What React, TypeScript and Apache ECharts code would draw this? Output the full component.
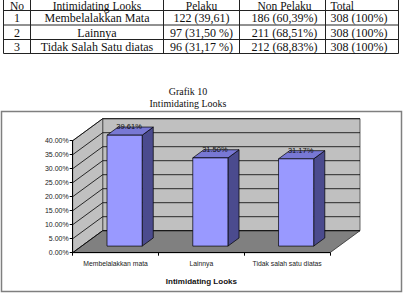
import React, { useEffect, useRef } from "react";
import * as echarts from "echarts";

// ---- data ----
const categories = ["Membelalakkan mata", "Lainnya", "Tidak salah satu diatas"];
const pelakuPct = [39.61, 31.5, 31.17];
const axisTitle = "Intimidating Looks";
const chartTitle = ["Grafik 10", "Intimidating Looks"];
const yMin = 0;
const yMax = 40;
const yStep = 5;

const tableHeader = ["No", "Intimidating Looks", "Pelaku", "Non Pelaku", "Total"];
const tableRows = [
  ["1", "Membelalakkan Mata", "122 (39,61)", "186 (60,39%)", "308 (100%)"],
  ["2", "Lainnya", "97 (31,50 %)", "211 (68,51%)", "308 (100%)"],
  ["3", "Tidak Salah Satu diatas", "96 (31,17 %)", "212 (68,83%)", "308 (100%)"],
];

// ---- layout / style ----
const DX = 30;
const DY = -22;
const colX = [3.5, 30.5, 163.5, 239.5, 325.5, 398.5];
const rowY = [-4, 10.5, 25, 39.5, 53.5];
const serif = "Liberation Serif";
const sans = "Liberation Sans";

function buildTable(): any[] {
  const els: any[] = [];
  const stroke = { stroke: "#222", lineWidth: 1 };
  rowY.forEach((y) => {
    els.push({ type: "line", shape: { x1: colX[0], y1: y, x2: colX[colX.length - 1], y2: y }, style: stroke });
  });
  colX.forEach((x) => {
    els.push({ type: "line", shape: { x1: x, y1: rowY[0], x2: x, y2: rowY[rowY.length - 1] }, style: stroke });
  });
  const allRows = [tableHeader, ...tableRows];
  allRows.forEach((row, r) => {
    const cy = r === 0 ? 5.5 : (rowY[r] + rowY[r + 1]) / 2 + 0.3;
    row.forEach((cell, c) => {
      const left = c === 4;
      const cx = left ? colX[4] + 5 : c === 3 ? (colX[3] + colX[4]) / 2 + 2 : (colX[c] + colX[c + 1]) / 2;
      els.push({
        type: "text",
        x: cx,
        y: cy,
        style: {
          text: cell,
          fontFamily: serif,
          fontSize: r === 0 ? 11.5 : 12,
          lineHeight: r === 0 ? 11 : 12,
          fill: "#111",
          align: left ? "left" : "center",
          verticalAlign: "middle",
        },
      });
    });
  });
  return els;
}

export default function App() {
  const ref = useRef<HTMLDivElement>(null);
  useEffect(() => {
    if (!ref.current) return;
    const chart = echarts.init(ref.current, undefined, { renderer: "svg" });

    const renderWalls = (params: any, api: any) => {
      const cs = params.coordSys;
      const x0 = cs.x, y0 = cs.y, w = cs.width, h = cs.height;
      const yb = y0 + h;
      const children: any[] = [];
      children.push({
        type: "polygon",
        shape: { points: [[x0 + DX, y0 + DY], [x0 + w + DX, y0 + DY], [x0 + w + DX, yb + DY], [x0 + DX, yb + DY]] },
        style: { fill: "#c0c0c0", stroke: "#404040", lineWidth: 0.8 },
      });
      children.push({
        type: "polygon",
        shape: { points: [[x0, y0], [x0 + DX, y0 + DY], [x0 + DX, yb + DY], [x0, yb]] },
        style: { fill: "#c0c0c0", stroke: "#404040", lineWidth: 0.8 },
      });
      children.push({
        type: "polygon",
        shape: { points: [[x0, yb], [x0 + w, yb], [x0 + w + DX, yb + DY], [x0 + DX, yb + DY]] },
        style: { fill: "#808080", stroke: "#303030", lineWidth: 0.8 },
      });
      for (let v = yMin; v <= yMax + 1e-9; v += yStep) {
        const y = api.coord([0, v])[1];
        children.push({
          type: "polyline",
          shape: { points: [[x0, y], [x0 + DX, y + DY], [x0 + w + DX, y + DY]] },
          style: { fill: "none", stroke: "#000", lineWidth: 0.8 },
        });
      }
      return { type: "group", children };
    };

    const renderBars = (params: any, api: any) => {
      const i = api.value(0);
      const v = api.value(1);
      const top = api.coord([i, v]);
      const base = api.coord([i, 0]);
      const bw = api.size([1, 0])[0] * 0.41;
      const fx = top[0] - bw / 2 + DX * 0.3;
      const ft = top[1] + DY * 0.3;
      const fb = base[1] + DY * 0.3;
      const ox = DX * 0.37;
      const oy = DY * 0.37;
      const edge = { stroke: "#000", lineWidth: 0.7 };
      return {
        type: "group",
        children: [
          {
            type: "polygon",
            shape: { points: [[fx + bw, ft], [fx + bw + ox, ft + oy], [fx + bw + ox, fb + oy], [fx + bw, fb]] },
            style: { fill: "#4b4b8e", ...edge },
          },
          {
            type: "polygon",
            shape: { points: [[fx, ft], [fx + ox, ft + oy], [fx + bw + ox, ft + oy], [fx + bw, ft]] },
            style: { fill: "#7878d4", ...edge },
          },
          {
            type: "rect",
            shape: { x: fx, y: ft, width: bw, height: fb - ft },
            style: { fill: "#9999ff", ...edge },
          },
          {
            type: "text",
            x: fx + bw / 2 + 4.5,
            y: ft - 8.7,
            style: {
              text: v.toFixed(2) + "%",
              fontFamily: sans,
              fontSize: 7.5,
              fill: "#111",
              align: "center",
              verticalAlign: "middle",
            },
          },
        ],
      };
    };

    chart.setOption({
      animation: false,
      backgroundColor: "#fff",
      grid: { left: 72.7, top: 140.7, right: 78, bottom: 41.3 },
      xAxis: {
        type: "category",
        data: categories,
        z: 5,
        axisLine: { show: true, lineStyle: { color: "#000", width: 1 } },
        axisTick: { show: true, length: 3, lineStyle: { color: "#000" } },
        axisLabel: { fontFamily: sans, fontSize: 6.8, color: "#222", margin: 7, interval: 0 },
        splitLine: { show: false },
        name: axisTitle,
        nameLocation: "middle",
        nameGap: 25,
        nameTextStyle: { fontFamily: sans, fontSize: 8, fontWeight: "bold", color: "#111" },
      },
      yAxis: {
        type: "value",
        min: yMin,
        max: yMax,
        interval: yStep,
        z: 5,
        axisLine: { show: true, lineStyle: { color: "#000", width: 1 } },
        axisTick: { show: true, length: 3, lineStyle: { color: "#000" } },
        axisLabel: {
          fontFamily: sans,
          fontSize: 7,
          color: "#222",
          margin: 4,
          formatter: (val: number) => val.toFixed(2) + "%",
        },
        splitLine: { show: false },
      },
      series: [
        {
          type: "custom",
          z: 1,
          clip: false,
          silent: true,
          renderItem: renderWalls,
          data: [[0, yMin]],
        },
        {
          type: "custom",
          z: 2,
          clip: false,
          renderItem: renderBars,
          data: pelakuPct.map((v, i) => [i, v]),
        },
      ],
      graphic: [
        ...buildTable(),
        {
          type: "text",
          x: 188,
          y: 91.3,
          style: { text: chartTitle[0], fontFamily: serif, fontSize: 10, fill: "#111", align: "center", verticalAlign: "middle" },
        },
        {
          type: "text",
          x: 188,
          y: 103,
          style: { text: chartTitle[1], fontFamily: serif, fontSize: 10, fill: "#111", align: "center", verticalAlign: "middle" },
        },
        {
          type: "rect",
          shape: { x: 1.5, y: 111.5, width: 400, height: 180 },
          style: { fill: "none", stroke: "#7f7f7f", lineWidth: 1.5 },
        },
      ],
    });
    return () => chart.dispose();
  }, []);
  return <div ref={ref} style={{ position: "fixed", left: 0, top: 0, width: 408, height: 294 }} />;
}
